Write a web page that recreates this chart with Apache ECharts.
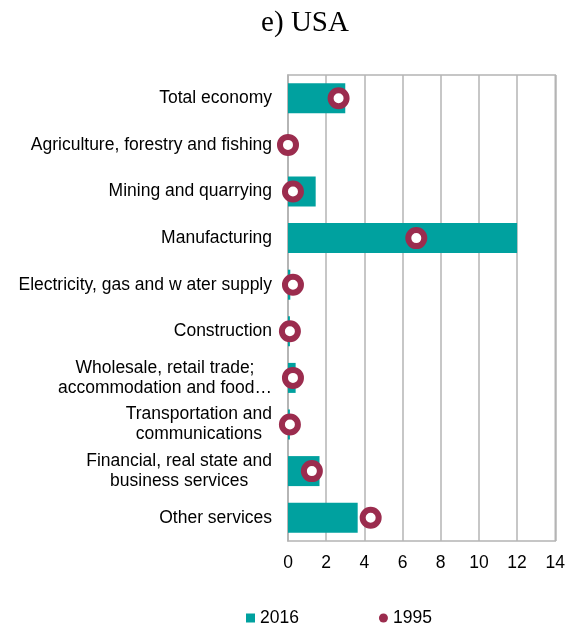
<!DOCTYPE html>
<html>
<head>
<meta charset="utf-8">
<script src="https://cdn.jsdelivr.net/npm/echarts@6/dist/echarts.min.js"></script>
<style>html,body{margin:0;padding:0;background:#fff;}#c{width:568px;height:629px;}</style>
</head>
<body>
<div id="c"></div>
<script>
var categories = [
  'Total economy',
  'Agriculture, forestry and fishing',
  'Mining and quarrying',
  'Manufacturing',
  'Electricity, gas and w ater supply',
  'Construction',
  'Wholesale, retail trade;\naccommodation and food\u2026',
  'Transportation and\ncommunications',
  'Financial, real state and\nbusiness services',
  'Other services'
];
var values2016 = [3.0, 0, 1.45, 12.0, 0.12, 0.1, 0.4, 0.1, 1.65, 3.65];
var values1995 = [2.65, 0, 0.26, 6.72, 0.26, 0.1, 0.26, 0.1, 1.25, 4.33];
var xTicks = { min: 0, max: 14, interval: 2 };
var titleText = 'e) USA';
var seriesNames = ['2016', '1995'];

var TEAL = '#00a19f';
var CRIMSON = '#9b2c4e';
var GRID = '#b4b4b4';
var FONT = '"Liberation Sans", Arial, sans-serif';

var chart = echarts.init(document.getElementById('c'), null, { renderer: 'canvas' });
chart.setOption({
  animation: false,
  backgroundColor: '#fff',
  title: {
    text: titleText,
    left: 300,
    textAlign: 'center',
    top: 4,
    textStyle: { fontFamily: '"Liberation Serif", "Times New Roman", serif', fontSize: 29, fontWeight: 'normal', color: '#000' }
  },
  legend: {
    top: 604,
    left: 241,
    itemGap: 80,
    itemWidth: 9,
    itemHeight: 9,
    textStyle: { fontFamily: FONT, fontSize: 17.5, color: '#000' },
    data: [
      { name: seriesNames[0], icon: 'rect', itemStyle: { color: TEAL, borderWidth: 0 } },
      { name: seriesNames[1], icon: 'circle', itemStyle: { color: CRIMSON, borderWidth: 0 } }
    ]
  },
  grid: {
    left: 288, right: 10, top: 75, bottom: 88,
    show: true, borderColor: GRID, borderWidth: 1.5
  },
  xAxis: {
    type: 'value',
    min: xTicks.min, max: xTicks.max, interval: xTicks.interval,
    axisLine: { show: false },
    axisTick: { show: false },
    splitLine: { show: true, lineStyle: { color: GRID, width: 1.5 } },
    axisLabel: { fontFamily: FONT, fontSize: 17.5, color: '#000', margin: 13 }
  },
  yAxis: {
    type: 'category',
    inverse: true,
    data: categories,
    axisLine: { show: true, lineStyle: { color: GRID, width: 1.5 } },
    axisTick: { show: false },
    axisLabel: {
      fontFamily: FONT, fontSize: 17.5, color: '#000', margin: 16, lineHeight: 20,
      formatter: function (v) {
        var lines = v.split('\n');
        if (lines.length === 1) return v;
        return lines.map(function (l) { return '{c|' + l + '}'; }).join('\n');
      },
      rich: { c: { align: 'center', fontFamily: FONT, fontSize: 17.5, color: '#000', lineHeight: 20 } }
    }
  },
  series: [
    {
      name: seriesNames[0],
      type: 'bar',
      data: values2016,
      barWidth: 30,
      itemStyle: { color: TEAL }
    },
    {
      name: seriesNames[1],
      type: 'scatter',
      data: values1995,
      symbol: 'circle',
      symbolSize: 16,
      z: 5,
      itemStyle: { color: '#fff', borderColor: CRIMSON, borderWidth: 6, opacity: 1 }
    }
  ]
});
</script>
</body>
</html>
